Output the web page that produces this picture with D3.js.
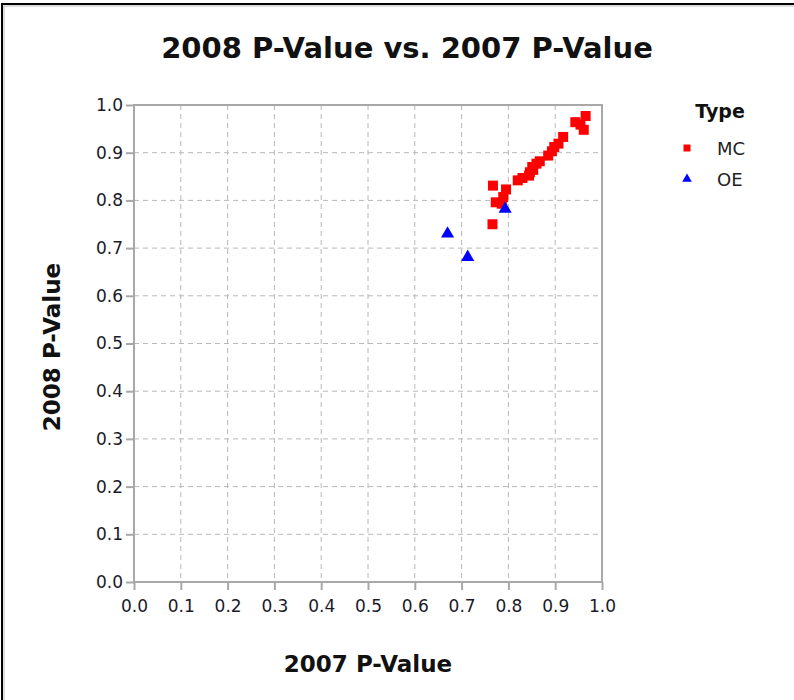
<!DOCTYPE html>
<html>
<head>
<meta charset="utf-8">
<script src="https://cdn.jsdelivr.net/npm/d3@7"></script>
<style>
  body { margin: 0; background: #fff; }
  text { font-family: "DejaVu Sans", Verdana, sans-serif; }
  .tick text { fill: #1a1a2a; font-size: 17px; }
  .domain { display: none; }
</style>
</head>
<body>
<svg id="chart"></svg>
<script>
var svgWidth = 794;
var svgHeight = 700;

// MC points (2007 p-value, 2008 p-value)
var mcX = [0.766, 0.767, 0.773, 0.786, 0.789, 0.795, 0.820, 0.830, 0.844, 0.846, 0.851, 0.853, 0.860, 0.867,
           0.885, 0.893, 0.898, 0.907, 0.917, 0.943, 0.954, 0.961, 0.965];
var mcY = [0.750, 0.831, 0.796, 0.793, 0.807, 0.823, 0.842, 0.847, 0.852, 0.859, 0.870, 0.864, 0.877, 0.882,
           0.894, 0.903, 0.912, 0.919, 0.933, 0.964, 0.959, 0.948, 0.977];

// OE points
var oeX = [0.670, 0.713, 0.793];
var oeY = [0.730, 0.681, 0.782];

var tickValues = [0, 0.1, 0.2, 0.3, 0.4, 0.5, 0.6, 0.7, 0.8, 0.9, 1.0];
var legendNames = ["MC", "OE"];
var legendColors = ["#ff0000", "#0000ff"];

var margin = { top: 105, left: 134 };
var width = 468;
var height = 477;

var svg = d3.select("#chart")
  .attr("width", svgWidth)
  .attr("height", svgHeight);

// outer frame
svg.append("rect")
  .attr("x", 2).attr("y", 4)
  .attr("width", 900).attr("height", 900)
  .attr("fill", "none")
  .attr("stroke", "#000")
  .attr("stroke-width", 2);
svg.append("rect")
  .attr("x", 4).attr("y", 6)
  .attr("width", 900).attr("height", 900)
  .attr("fill", "none")
  .attr("stroke", "#bbb")
  .attr("stroke-width", 1);

svg.append("text")
  .attr("x", 407)
  .attr("y", 58)
  .attr("text-anchor", "middle")
  .style("font-size", "29px")
  .style("font-weight", "bold")
  .attr("fill", "#111")
  .text("2008 P-Value vs. 2007 P-Value");

var chartGroup = svg.append("g")
  .attr("transform", `translate(${margin.left}, ${margin.top})`);

var xScale = d3.scaleLinear().domain([0, 1]).range([0, width]);
var yScale = d3.scaleLinear().domain([0, 1]).range([height, 0]);

// dashed grid
chartGroup.append("g")
  .selectAll("line")
  .data(tickValues.slice(1, -1))
  .enter()
  .append("line")
  .attr("x1", d => xScale(d)).attr("x2", d => xScale(d))
  .attr("y1", 0).attr("y2", height)
  .attr("stroke", "#b8b8b8")
  .attr("stroke-dasharray", "5,4");

chartGroup.append("g")
  .selectAll("line")
  .data(tickValues.slice(1, -1))
  .enter()
  .append("line")
  .attr("y1", d => yScale(d)).attr("y2", d => yScale(d))
  .attr("x1", 0).attr("x2", width)
  .attr("stroke", "#b8b8b8")
  .attr("stroke-dasharray", "5,4");

// plot border
chartGroup.append("rect")
  .attr("width", width)
  .attr("height", height)
  .attr("fill", "none")
  .attr("stroke", "#a8a8a8")
  .attr("stroke-width", 2);

var bottomAxis = d3.axisBottom(xScale)
  .tickValues(tickValues)
  .tickSize(8)
  .tickPadding(10)
  .tickFormat(d3.format(".1f"));

var leftAxis = d3.axisLeft(yScale)
  .tickValues(tickValues)
  .tickSize(8)
  .tickPadding(3)
  .tickFormat(d3.format(".1f"));

var xAxis = chartGroup.append("g")
  .attr("transform", `translate(0, ${height})`)
  .call(bottomAxis);
var yAxis = chartGroup.append("g")
  .call(leftAxis);

chartGroup.selectAll(".tick line")
  .attr("stroke", "#a8a8a8")
  .attr("stroke-width", 2);

// axis titles
svg.append("text")
  .attr("x", 368)
  .attr("y", 672)
  .attr("text-anchor", "middle")
  .style("font-size", "23px")
  .style("font-weight", "bold")
  .attr("fill", "#111")
  .text("2007 P-Value");

svg.append("text")
  .attr("transform", "translate(60, 347) rotate(-90)")
  .attr("text-anchor", "middle")
  .style("font-size", "23px")
  .style("font-weight", "bold")
  .attr("fill", "#111")
  .text("2008 P-Value");

// points
var mcData = mcX.map((x, i) => ({ x: x, y: mcY[i] }));
var oeData = oeX.map((x, i) => ({ x: x, y: oeY[i] }));

chartGroup.append("g")
  .selectAll("path")
  .data(mcData)
  .enter()
  .append("path")
  .attr("transform", d => `translate(${xScale(d.x)}, ${yScale(d.y)})`)
  .attr("d", d3.symbol().type(d3.symbolSquare).size(100))
  .attr("fill", legendColors[0]);

chartGroup.append("g")
  .selectAll("path")
  .data(oeData)
  .enter()
  .append("path")
  .attr("transform", d => `translate(${xScale(d.x)}, ${yScale(d.y)})`)
  .attr("d", d3.symbol().type(d3.symbolTriangle).size(75))
  .attr("fill", legendColors[1]);

// legend
var legend = svg.append("g");
legend.append("text")
  .attr("x", 720)
  .attr("y", 118)
  .attr("text-anchor", "middle")
  .style("font-size", "19px")
  .style("font-weight", "bold")
  .attr("fill", "#111")
  .text("Type");

var items = legend.selectAll(".item")
  .data(legendNames)
  .enter()
  .append("g")
  .attr("class", "item")
  .attr("transform", (d, i) => `translate(0, ${148 + i * 31})`);

items.append("path")
  .attr("transform", "translate(687, 0)")
  .attr("d", (d, i) => d3.symbol().type(i === 0 ? d3.symbolSquare : d3.symbolTriangle).size(i === 0 ? 49 : 40)())
  .attr("fill", (d, i) => legendColors[i]);

items.append("text")
  .attr("x", 717)
  .attr("y", 7)
  .style("font-size", "18px")
  .attr("fill", "#222")
  .text(d => d);
</script>
</body>
</html>
